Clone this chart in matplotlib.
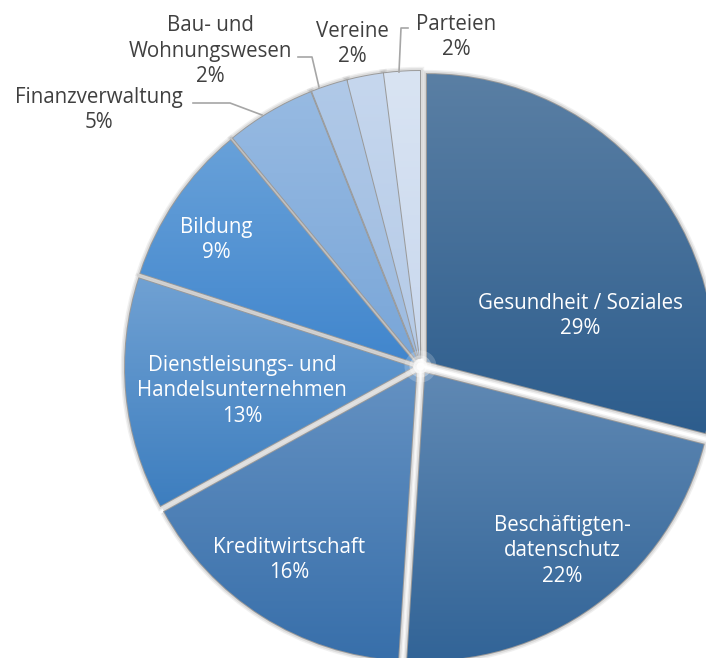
import numpy as np
import matplotlib
matplotlib.use("Agg")
import matplotlib.pyplot as plt
from matplotlib.colors import to_rgb
from matplotlib.patches import PathPatch

W, H = 706, 658

categories = ["Gesundheit / Soziales", "Beschäftigten-\ndatenschutz", "Kreditwirtschaft",
              "Dienstleisungs- und\nHandelsunternehmen", "Bildung", "Finanzverwaltung",
              "Bau- und\nWohnungswesen", "Vereine", "Parteien"]
values = [29, 22, 16, 13, 9, 5, 2, 2, 2]

# gradient colours per slice (top, bottom)
grad_top = ["#5A7FA4", "#6089B4", "#6491C2", "#70A1D3", "#68A1D9", "#97BAE2", "#B0C9E8", "#C6D7EE", "#D9E4F3"]
grad_bot = ["#2D5D8D", "#326497", "#386FAA", "#3D7EBF", "#4186CD", "#79A6D8", "#9DBBE0", "#B4CAE7", "#C9D8EE"]

# label centres in pixel coords (x, y from top)
label_xy = [(580, 316), (562, 551), (289, 560), (242, 391), (216, 240),
            (99, 110), (210, 51), (352, 44), (456, 37)]
inside = [True, True, True, True, True, False, False, False, False]

# leader lines (pixel coords)
leaders = [
    [(193, 103), (230, 103), (262, 115)],
    [(298, 57), (312, 57), (319, 87)],
    [(408, 28), (401, 28), (399, 72)],
]

def py(y):
    return H - y

fig = plt.figure(figsize=(W / 100, H / 100), dpi=100)
ax = fig.add_axes([0, 0, 1, 1])

cx, cy, r = 420.5, py(366.5), 287.5
# explode is in data units here (pixels)
wedges, _ = ax.pie(values, startangle=90, counterclock=False, radius=r, center=(cx, cy),
                   explode=[8] * len(values), colors=grad_bot,
                   wedgeprops=dict(edgecolor="#9a9a9a", linewidth=1.4, zorder=1.5))

# soft shadow round every slice
for w in wedges:
    for lw, a in [(6, 0.10), (4, 0.15)]:
        ax.add_patch(PathPatch(w.get_path(), fill=False, edgecolor="#707070",
                               lw=lw, alpha=a, zorder=1))

for w, c1, c2 in zip(wedges, grad_top, grad_bot):
    bb = w.get_path().get_extents()
    t = np.linspace(0, 1, 200)[:, None]
    arr = (1 - t) * np.array(to_rgb(c1)) + t * np.array(to_rgb(c2))
    im = ax.imshow(arr[:, None, :].repeat(2, axis=1), extent=(bb.x0, bb.x1, bb.y0, bb.y1),
                   origin="upper", aspect="auto", interpolation="bilinear", zorder=2)
    im.set_clip_path(w)

# soft white highlight where the gaps meet
for rad, a in [(16, 0.2), (11, 0.35), (7, 0.6), (4, 0.9)]:
    ax.add_patch(plt.Circle((cx, cy), rad, color="white", alpha=a, lw=0, zorder=3))

for (x, y), cat, v, ins in zip(label_xy, categories, values, inside):
    ax.text(x, py(y), f"{cat}\n{v}%", ha="center", va="center", fontsize=14.8,
            family="Open Sans", color="white" if ins else "#404040", linespacing=1.3, zorder=5)

for pts in leaders:
    xs = [p[0] for p in pts]
    ys = [py(p[1]) for p in pts]
    ax.plot(xs, ys, color="#a6a6a6", lw=1.2, zorder=4)

ax.set_xlim(0, W)
ax.set_ylim(0, H)
ax.set_aspect("auto")
ax.axis("off")

fig.savefig("out.png", dpi=100, facecolor="white")
